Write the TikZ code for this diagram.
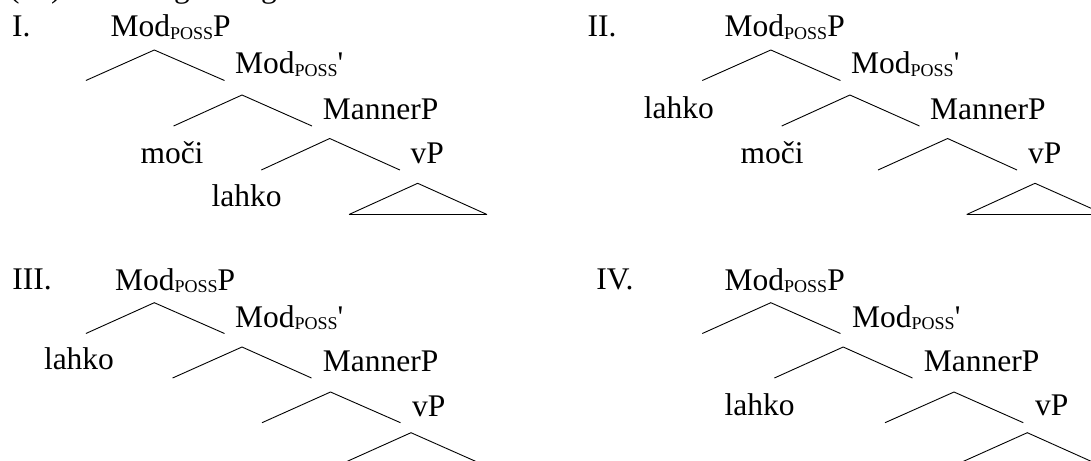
\documentclass[tikz,border=0pt]{standalone}
\usepackage{fontspec}
\setmainfont{Liberation Serif}
\newcommand\myposs{\raisebox{-2.5pt}{\fontsize{18}{18}\selectfont POSS}}
\tikzset{
  lbl/.style={anchor=base west, inner sep=0pt, font=\fontsize{31.5}{36}\selectfont},
  branch/.style={line width=0.9pt, line join=miter},
  base/.style={line width=1.2pt}
}
\begin{document}
\begin{tikzpicture}[x=1pt,y=-1pt]
\useasboundingbox (0,0) rectangle (1091,460);
\clip (0,0) rectangle (1091,460);
% cut-off first line
\node[lbl] (h1) at (9,-2.5) {(\hphantom{00})};
\node[lbl] (h2) at (174,-2.5) {g};
\node[lbl] (h3) at (261,-2.5) {g};

% ---------------- Tree I ----------------
\node[lbl] (n1) at (12,36.5) {I.};
\node[lbl] (r1) at (110.5,37) {Mod\myposs P};
\coordinate (a1a) at (154.3,50);  \coordinate (a1l) at (85.9,80.5);  \coordinate (a1r) at (224.5,80.5);
\node[lbl] (p1) at (235,74) {Mod\myposs\textquotesingle};
\coordinate (a1b) at (242,95);    \coordinate (b1l) at (173.6,126);  \coordinate (b1r) at (312,126);
\node[lbl] (m1) at (322.7,119) {MannerP};
\node[lbl] (c1) at (140.3,163.3) {moči};
\coordinate (a1c) at (329.7,138.5); \coordinate (c1l) at (261.3,170); \coordinate (c1r) at (399.9,170);
\node[lbl] (v1) at (410.4,163.3) {vP};
\node[lbl] (l1) at (211.5,206.7) {lahko};
\coordinate (t1a) at (417.7,183.3); \coordinate (t1l) at (349,214.5); \coordinate (t1r) at (487,214.5);
\draw[branch] (a1l) -- (a1a) -- (a1r);
\draw[branch] (b1l) -- (a1b) -- (b1r);
\draw[branch] (c1l) -- (a1c) -- (c1r);
\draw[branch] (t1l) -- (t1a) -- (t1r);
\draw[base] (t1l) -- (t1r);

% ---------------- Tree II ----------------
\node[lbl] (n2) at (587.4,36.5) {II.};
\node[lbl] (r2) at (724.5,37) {Mod\myposs P};
\coordinate (a2a) at (770.8,50);  \coordinate (a2l) at (702.3,80.5); \coordinate (a2r) at (840.4,80.5);
\node[lbl] (p2) at (851,74) {Mod\myposs\textquotesingle};
\node[lbl] (l2) at (643.7,118.3) {lahko};
\coordinate (a2b) at (849.9,95);  \coordinate (b2l) at (781.7,126);  \coordinate (b2r) at (919.5,126);
\node[lbl] (m2) at (930,119) {MannerP};
\node[lbl] (c2) at (740.3,163.3) {moči};
\coordinate (a2c) at (947.6,138.5); \coordinate (c2l) at (878,170); \coordinate (c2r) at (1017,170);
\node[lbl] (v2) at (1028,163.3) {vP};
\coordinate (t2a) at (1035,183.3); \coordinate (t2l) at (966.7,214.5); \coordinate (t2r) at (1105,214.5);
\draw[branch] (a2l) -- (a2a) -- (a2r);
\draw[branch] (b2l) -- (a2b) -- (b2r);
\draw[branch] (c2l) -- (a2c) -- (c2r);
\draw[branch] (t2l) -- (t2a) -- (t2r);
\draw[base] (t2l) -- (t2r);

% ---------------- Tree III ----------------
\node[lbl] (n3) at (12.3,289) {III.};
\node[lbl] (r3) at (115,290) {Mod\myposs P};
\coordinate (a3a) at (154.3,302.7); \coordinate (a3l) at (85.9,333.5); \coordinate (a3r) at (224.5,333.5);
\node[lbl] (p3) at (235,327.3) {Mod\myposs\textquotesingle};
\node[lbl] (l3) at (43.8,369.3) {lahko};
\coordinate (a3b) at (242,347);   \coordinate (b3l) at (172.6,378);  \coordinate (b3r) at (311.5,378);
\node[lbl] (m3) at (322.7,371.7) {MannerP};
\coordinate (a3c) at (330.5,392); \coordinate (c3l) at (262,422.7);  \coordinate (c3r) at (400.5,422.7);
\node[lbl] (v3) at (412,416.3) {vP};
\coordinate (t3a) at (411,432.7); \coordinate (t3l) at (342.4,463.5); \coordinate (t3r) at (480.5,463.5);
\draw[branch] (a3l) -- (a3a) -- (a3r);
\draw[branch] (b3l) -- (a3b) -- (b3r);
\draw[branch] (c3l) -- (a3c) -- (c3r);
\draw[branch] (t3l) -- (t3a) -- (t3r);
\draw[base] (t3l) -- (t3r);

% ---------------- Tree IV ----------------
\node[lbl] (n4) at (596.2,289.3) {IV.};
\node[lbl] (r4) at (724.5,290) {Mod\myposs P};
\coordinate (a4a) at (770.8,302.7); \coordinate (a4l) at (702.3,333.5); \coordinate (a4r) at (840.4,333.5);
\node[lbl] (p4) at (852,327.3) {Mod\myposs\textquotesingle};
\coordinate (a4b) at (843.2,347); \coordinate (b4l) at (774.4,378);  \coordinate (b4r) at (912.5,378);
\node[lbl] (m4) at (923.7,371.7) {MannerP};
\node[lbl] (l4) at (724.5,415) {lahko};
\coordinate (a4c) at (954,392);   \coordinate (c4l) at (885,422.7);  \coordinate (c4r) at (1023.3,422.7);
\node[lbl] (v4) at (1035,415.5) {vP};
\coordinate (t4a) at (1027.3,432.7); \coordinate (t4l) at (958.6,463.5); \coordinate (t4r) at (1096,463.5);
\draw[branch] (a4l) -- (a4a) -- (a4r);
\draw[branch] (b4l) -- (a4b) -- (b4r);
\draw[branch] (c4l) -- (a4c) -- (c4r);
\draw[branch] (t4l) -- (t4a) -- (t4r);
\draw[base] (t4l) -- (t4r);
\end{tikzpicture}
\end{document}
